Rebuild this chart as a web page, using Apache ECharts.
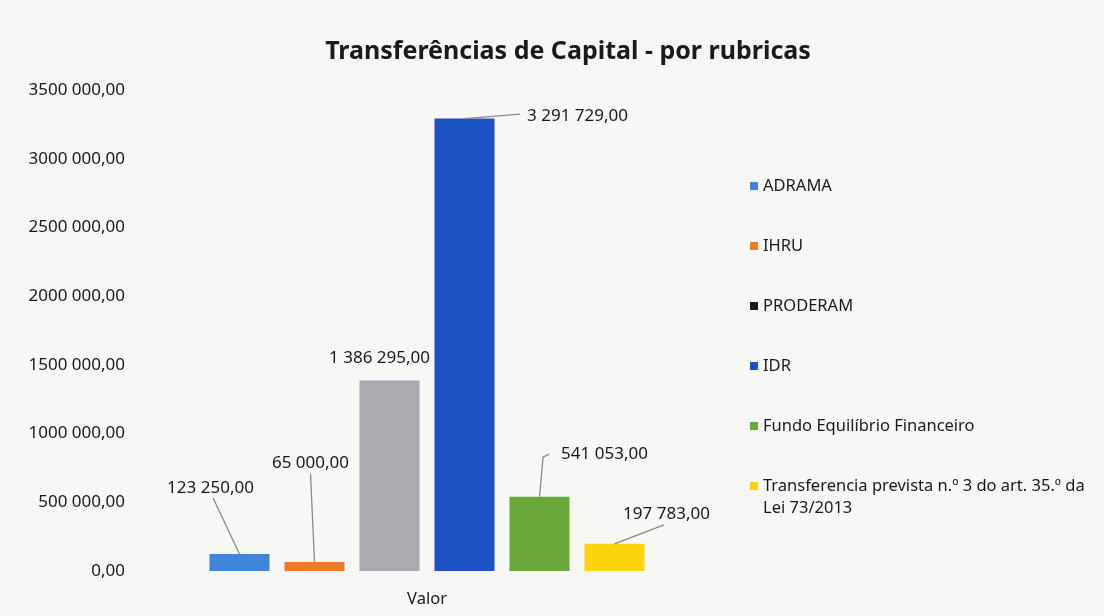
<!DOCTYPE html>
<html>
<head>
<meta charset="utf-8">
<script src="https://cdn.jsdelivr.net/npm/echarts@6/dist/echarts.min.js"></script>
<style>
html,body{margin:0;padding:0;background:#f7f7f6;}
#chart{width:1104px;height:616px;}
</style>
</head>
<body>
<div id="chart"></div>
<script>
var categories = ['Valor'];
var seriesNames = ['ADRAMA', 'IHRU', 'PRODERAM', 'IDR', 'Fundo Equilíbrio Financeiro', 'Transferencia prevista n.º 3 do art. 35.º da Lei 73/2013'];
var seriesValues = [123250, 65000, 1386295, 3291729, 541053, 197783];
var barColors = ['#3f86d8', '#ee7a2c', '#a9aaaf', '#1c52c4', '#6aa83c', '#fbd40f'];
var legendColors = ['#3f86d8', '#ee7a2c', '#1a1a1a', '#1c52c4', '#6aa83c', '#fbd40f'];
var yTickLabels = ['0,00', '500 000,00', '1000 000,00', '1500 000,00', '2000 000,00', '2500 000,00', '3000 000,00', '3500 000,00'];

// label placement (style): offset from default 'top' position
var labelOffsets = [[-29, -52], [-4, -85], [-10, -9], [113, 11], [65, -29], [52, -16]];
// leader line end on label: [fracX, fracY, pxX, pxY]; null = no leader
var leaderEnds = [[0.53, 1, 0, 1], [0.5, 1, 0, 2], null, [0, 0.5, -7, -2], [0, 0.5, -12, 0], [0.47, 1, 0, 2]];
// optional elbow point on label: same encoding
var leaderElbows = [null, null, null, null, [0, 0.5, -18, 3], null];

function fmt(v) {
  var s = Math.round(v).toString();
  var out = '';
  while (s.length > 3) { out = ' ' + s.slice(-3) + out; s = s.slice(0, -3); }
  return s + out + ',00';
}

var FONT = '"Noto Sans", "Open Sans", sans-serif';
var chart = echarts.init(document.getElementById('chart'));
var geom = [];

function makeLayout(i) {
  return function (p) {
    geom[i] = { r: p.rect, lr: p.labelRect };
    return { dx: labelOffsets[i][0], dy: labelOffsets[i][1] };
  };
}

var series = seriesNames.map(function (n, i) {
  return {
    name: n,
    type: 'bar',
    data: [seriesValues[i]],
    barWidth: 60,
    barGap: '25%',
    itemStyle: { color: barColors[i] },
    label: {
      show: true,
      position: 'top',
      formatter: function (p) { return fmt(p.value); },
      color: '#1a1a1a',
      fontSize: 17,
      fontFamily: FONT
    },
    labelLayout: makeLayout(i)
  };
});

var legendText = { fontSize: 16.5, color: '#1a1a1a', fontFamily: FONT, lineHeight: 22 };
var lastIdx = seriesNames.length - 1;

chart.setOption({
  backgroundColor: '#f7f7f6',
  animation: false,
  title: {
    text: 'Transferências de Capital - por rubricas',
    left: 563, top: 34, textAlign: 'center',
    textStyle: { fontSize: 25, fontWeight: 'bold', color: '#1a1a1a', fontFamily: FONT }
  },
  legend: [{
    orient: 'vertical',
    left: 745, top: 170,
    itemWidth: 8, itemHeight: 8, itemGap: 38,
    icon: 'rect',
    data: seriesNames.slice(0, lastIdx).map(function (n, i) { return { name: n, itemStyle: { color: legendColors[i] } }; }),
    textStyle: legendText
  }, {
    orient: 'vertical',
    left: 745, top: 448,
    itemWidth: 8, itemHeight: 8,
    icon: 'rect',
    data: [{ name: seriesNames[lastIdx], itemStyle: { color: legendColors[lastIdx] } }],
    formatter: function (n) { return '\n' + n.replace(' Lei ', '\nLei '); },
    textStyle: legendText
  }],
  grid: { left: 135, right: 385, top: 90, bottom: 45, containLabel: false },
  xAxis: {
    type: 'category',
    data: categories,
    axisLine: { show: false },
    axisTick: { show: false },
    axisLabel: { color: '#1a1a1a', fontSize: 16.5, fontFamily: FONT, margin: 20 }
  },
  yAxis: {
    type: 'value',
    min: 0, max: 3500000, interval: 500000,
    splitLine: { show: false },
    axisLine: { show: false },
    axisTick: { show: false },
    axisLabel: {
      color: '#1a1a1a', fontSize: 17, fontFamily: FONT, margin: 10,
      formatter: function (v) { return yTickLabels[Math.round(v / 500000)]; }
    }
  },
  series: series
});

// leader lines from the library's own bar and label geometry
var lines = [];
geom.forEach(function (g, i) {
  if (!g || !leaderEnds[i]) return;
  var lx = g.lr.x + labelOffsets[i][0], ly = g.lr.y + labelOffsets[i][1];
  var w = g.lr.width, h = g.lr.height;
  var ptOf = function (a) { return [lx + a[0] * w + a[2], ly + a[1] * h + a[3]]; };
  var pts = [[g.r.x + g.r.width / 2, g.r.y]];
  if (leaderElbows[i]) pts.push(ptOf(leaderElbows[i]));
  pts.push(ptOf(leaderEnds[i]));
  lines.push({
    type: 'polyline', silent: true, z: 5,
    shape: { points: pts },
    style: { stroke: '#8a8a8a', lineWidth: 1.3, fill: null }
  });
});
chart.setOption({ graphic: { elements: lines } });
</script>
</body>
</html>
